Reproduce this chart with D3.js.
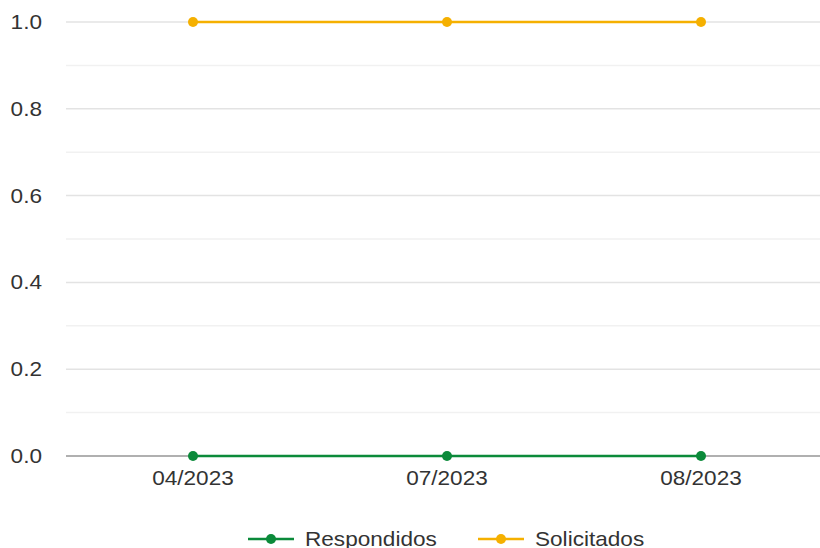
<!DOCTYPE html>
<html>
<head>
<meta charset="utf-8">
<script src="https://cdn.jsdelivr.net/npm/d3@7"></script>
<style>
  body { margin: 0; background: #fff; }
  text { font-family: "Liberation Sans", Arial, sans-serif; font-size: 20px; fill: #333; }
  .wide { transform-box: fill-box; transform: scaleX(1.13); }
  .wide.mid { transform-origin: center; }
  .wide.end { transform-origin: right; }
  .wide.start { transform-origin: left; }
</style>
</head>
<body>
<svg id="chart" width="820" height="548"></svg>
<script>
// data
var months = ["04/2023", "07/2023", "08/2023"];
var respondidos = [0, 0, 0];
var solicitados = [1, 1, 1];
var yTicks = [0, 0.2, 0.4, 0.6, 0.8, 1.0];
var seriesNames = ["Respondidos", "Solicitados"];
var seriesColors = ["#0b8a3a", "#f5b000"];

var svg = d3.select("#chart");
var plotLeft = 66, plotRight = 828, plotTop = 22, plotBottom = 456;

var x = d3.scaleBand().domain(months).range([plotLeft, plotRight]);
var y = d3.scaleLinear().domain([0, 1]).range([plotBottom, plotTop]);

// minor grid
var minor = d3.range(0.1, 1, 0.2);
svg.selectAll(".minor").data(minor).enter().append("line")
  .attr("x1", plotLeft).attr("x2", 820)
  .attr("y1", function(d){ return y(d); }).attr("y2", function(d){ return y(d); })
  .attr("stroke", "#f1f1f1").attr("stroke-width", 1.5);

// major grid
svg.selectAll(".major").data(yTicks.filter(function(d){ return d > 0; })).enter().append("line")
  .attr("x1", plotLeft).attr("x2", 820)
  .attr("y1", function(d){ return y(d); }).attr("y2", function(d){ return y(d); })
  .attr("stroke", "#e3e3e3").attr("stroke-width", 1.5);

// baseline
svg.append("line").attr("x1", plotLeft).attr("x2", 820)
  .attr("y1", y(0)).attr("y2", y(0))
  .attr("stroke", "#b0b0b0").attr("stroke-width", 2);

// y labels
svg.selectAll(".ylab").data(yTicks).enter().append("text")
  .attr("class", "wide end")
  .attr("x", 42).attr("y", function(d){ return y(d) + 7; })
  .attr("text-anchor", "end")
  .text(function(d){ return d3.format(".1f")(d); });

// x labels
svg.selectAll(".xlab").data(months).enter().append("text")
  .attr("class", "wide mid")
  .attr("x", function(d){ return x(d) + x.bandwidth() / 2; })
  .attr("y", 485)
  .attr("text-anchor", "middle")
  .text(function(d){ return d; });

var cx = function(d, i){ return x(months[i]) + x.bandwidth() / 2; };
var line = d3.line().x(cx).y(function(d){ return y(d); });

[respondidos, solicitados].forEach(function(vals, k){
  svg.append("path").datum(vals)
    .attr("d", line).attr("fill", "none")
    .attr("stroke", seriesColors[k]).attr("stroke-width", 2.5);
  svg.selectAll(".pt" + k).data(vals).enter().append("circle")
    .attr("cx", cx).attr("cy", function(d){ return y(d); })
    .attr("r", 5).attr("fill", seriesColors[k]);
});

// legend
var legX = [248, 478];
seriesNames.forEach(function(name, k){
  var g = svg.append("g").attr("transform", "translate(" + legX[k] + ",539)");
  g.append("line").attr("x1", 0).attr("x2", 46).attr("y1", 0).attr("y2", 0)
    .attr("stroke", seriesColors[k]).attr("stroke-width", 2.5);
  g.append("circle").attr("cx", 23).attr("cy", 0).attr("r", 5).attr("fill", seriesColors[k]);
  g.append("text").attr("class", "wide start").attr("x", 57).attr("y", 7).text(name);
});
</script>
</body>
</html>
